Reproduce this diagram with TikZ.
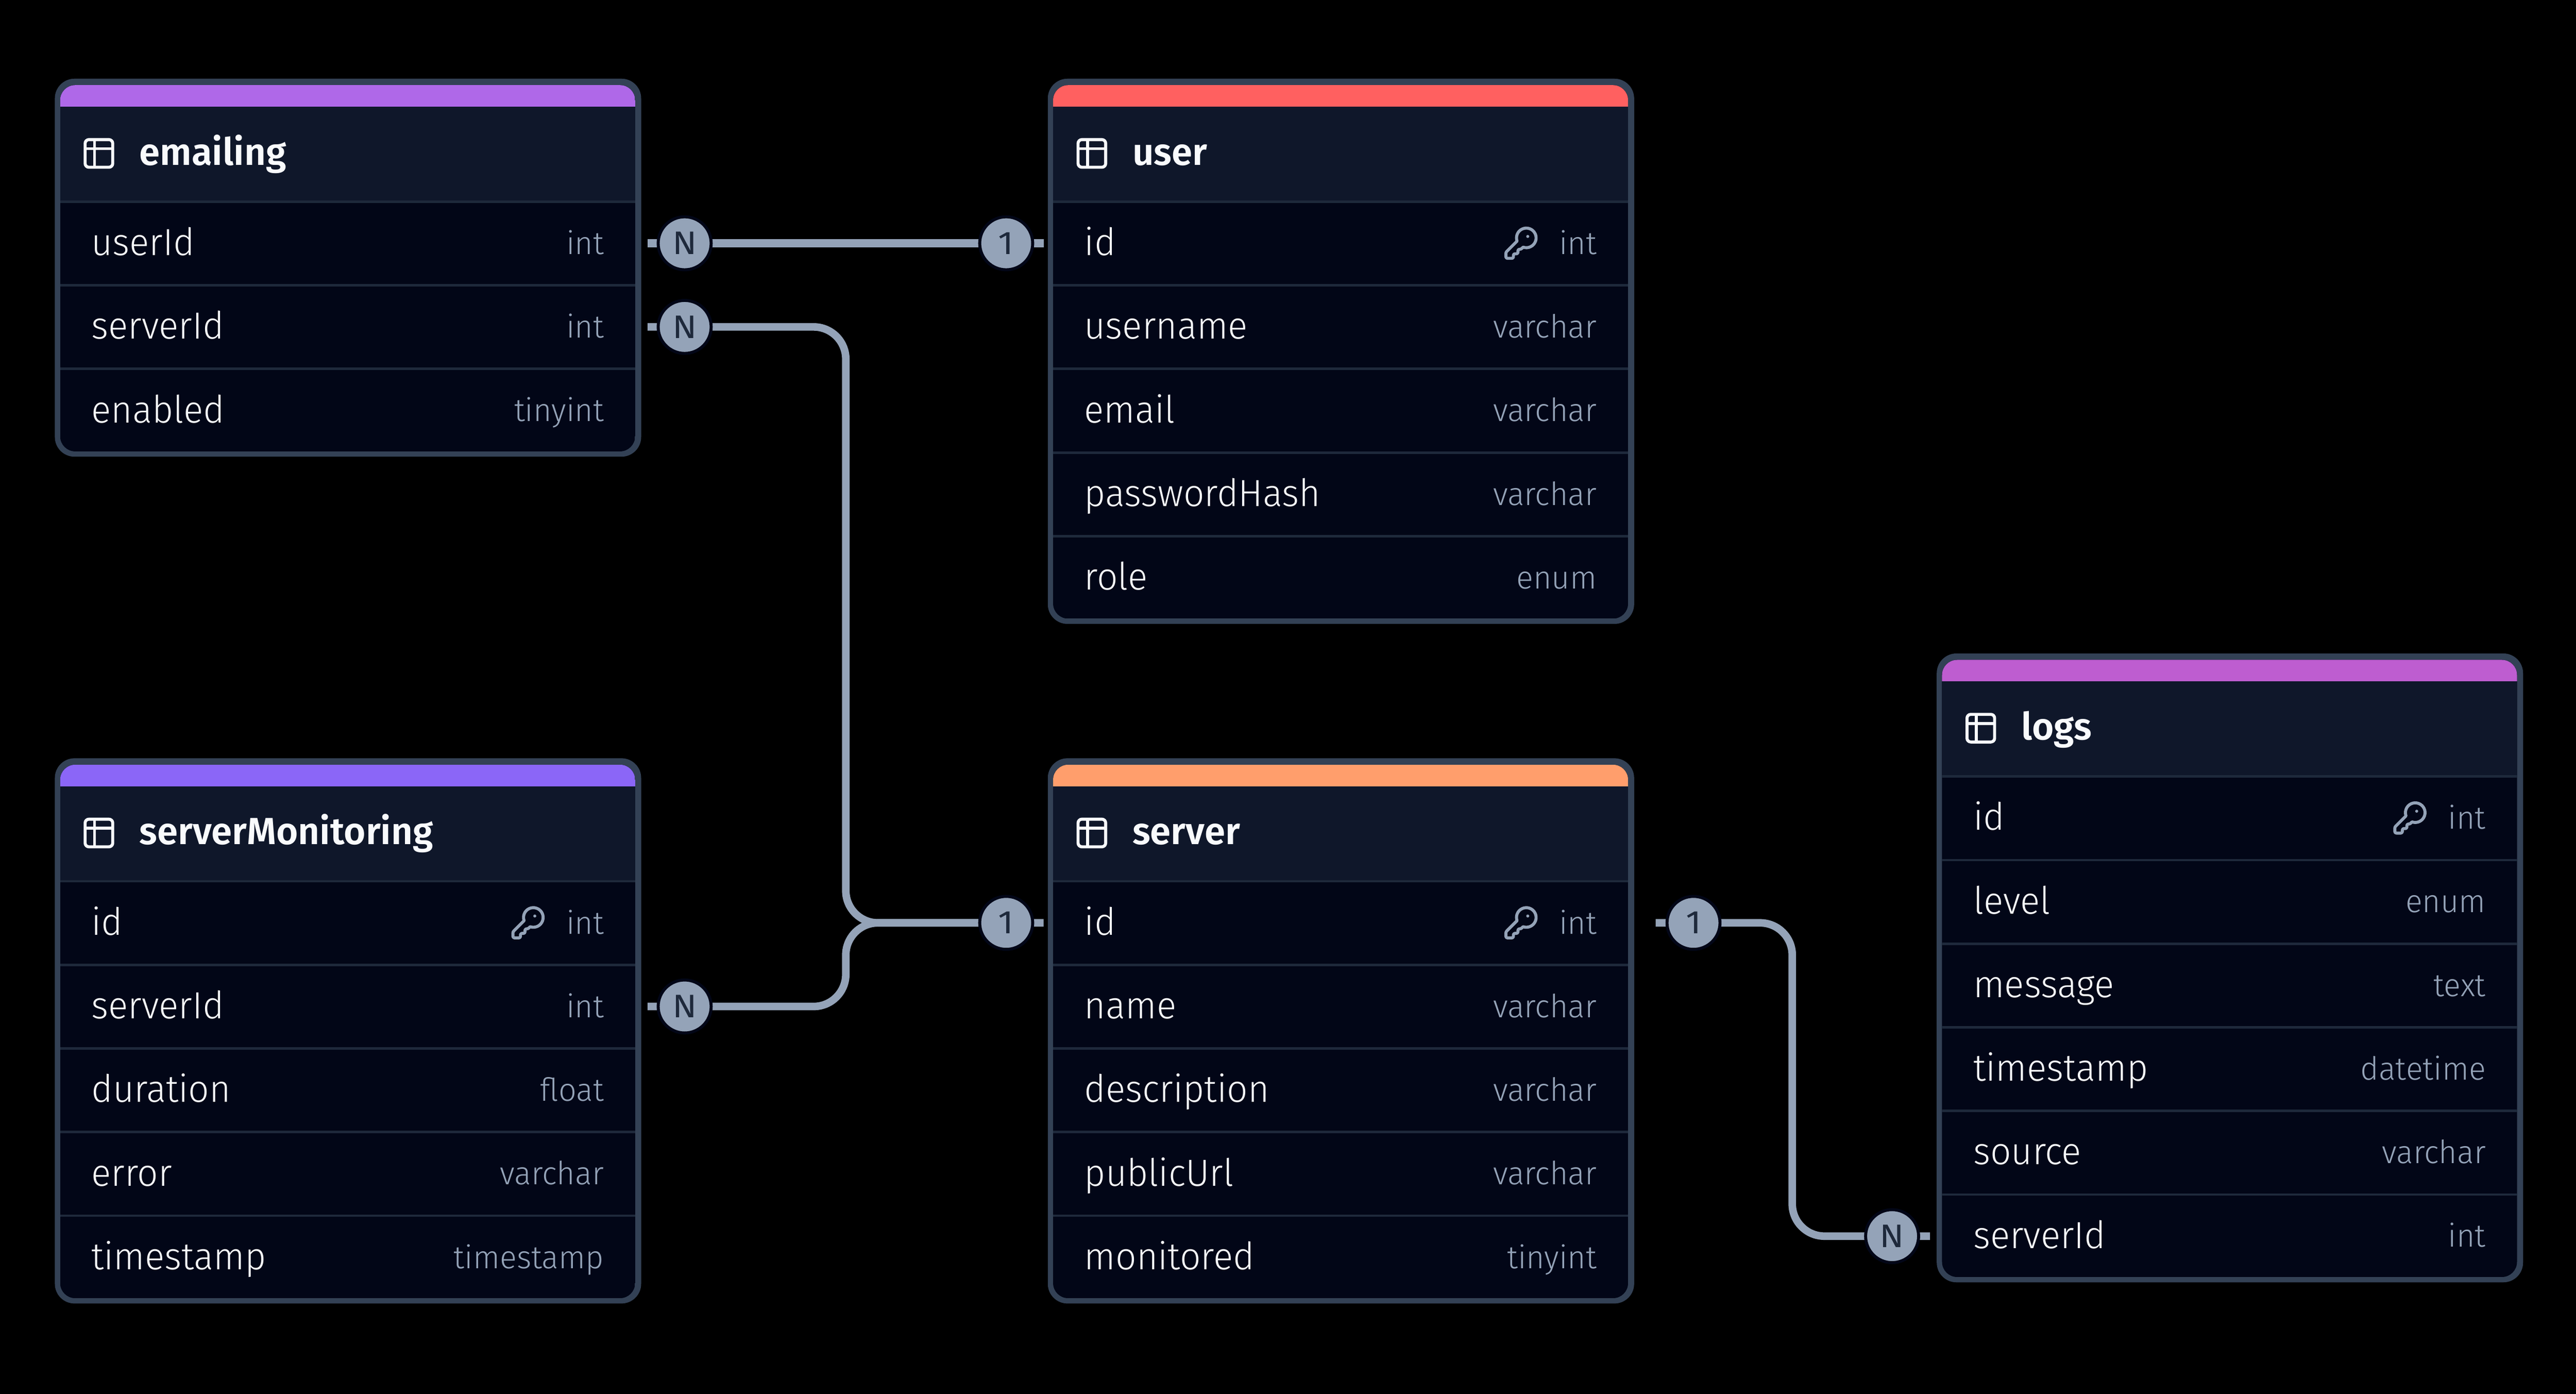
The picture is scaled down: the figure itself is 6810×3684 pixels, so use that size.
\documentclass[tikz,border=0pt]{standalone}
\usepackage{fontspec}
\usetikzlibrary{svg.path}
\setmainfont{Fira Sans}
\newfontfamily\rowfont[FakeStretch=0.97]{Fira Sans Light}
\newfontfamily\typefont[FakeStretch=0.985]{Fira Sans Light}
\newfontfamily\titlefont[FakeStretch=0.99]{Fira Sans SemiBold}
\newfontfamily\cardfont[FakeStretch=1.1]{Fira Sans}
\definecolor{bordercol}{HTML}{334155}
\definecolor{headcol}{HTML}{0F172A}
\definecolor{rowcol}{HTML}{020617}
\definecolor{sepcol}{HTML}{1E293B}
\definecolor{typecol}{HTML}{94A3B8}
\definecolor{namecol}{HTML}{F8FAFC}
\definecolor{edgecol}{HTML}{94A3B8}
\definecolor{cemail}{HTML}{AF68E8}
\definecolor{cuser}{HTML}{FF6060}
\definecolor{cmon}{HTML}{8B66F7}
\definecolor{cserver}{HTML}{FF9E6C}
\definecolor{clogs}{HTML}{BE5DD0}
\pgfdeclarelayer{bglayer}
\pgfdeclarelayer{edgelayer}
\pgfsetlayers{bglayer,edgelayer,main}
\tikzset{
  namelabel/.style={anchor=base west,inner sep=0pt,text=namecol,font=\rowfont\fontsize{28.4}{30}\selectfont},
  typelabel/.style={anchor=base east,inner sep=0pt,text=typecol,font=\typefont\fontsize{24}{26}\selectfont},
  titlelabel/.style={anchor=base west,inner sep=0pt,text=namecol,font=\titlefont\fontsize{28.4}{30}\selectfont},
  card/.style={circle,fill=edgecol,draw=rowcol,line width=0.08cm,inner sep=0pt,minimum size=1.4cm,text=sepcol,font=\cardfont\fontsize{24.5}{26}\selectfont},
  edgeline/.style={draw=edgecol,line width=0.20cm,rounded corners=0.85cm},
  iconline/.style={draw=namecol,line width=0.08cm},
  keyline/.style={draw=typecol,line width=0.08cm,line join=round,line cap=round},
}
\newcommand{\ertable}[7]{%
  \pgfmathsetmacro{\tr}{#2+1550}%
  \pgfmathsetmacro{\tb}{#3+999+221*(#4-3)}%
  \fill[bordercol,rounded corners=0.52cm] (#2,#3) rectangle (\tr,\tb);
  \begin{scope}
    \pgfmathsetmacro{\il}{#2+14}\pgfmathsetmacro{\ir}{#2+1534}%
    \pgfmathsetmacro{\it}{#3+17}\pgfmathsetmacro{\ib}{\tb-14}%
    \pgfmathsetmacro{\ba}{#3+74}\pgfmathsetmacro{\he}{#3+325}%
    \clip[rounded corners=0.40cm] (\il,\it) rectangle (\ir,\ib);
    \fill[rowcol] (\il,\it) rectangle (\ir,\ib);
    \fill[headcol] (\il,\it) rectangle (\ir,\he);
    \fill[#5] (\il,\it) rectangle (\ir,\ba);
    \foreach \s in {1,...,#4} {
      \pgfmathsetmacro{\sy}{#3+325+221*(\s-1)}%
      \draw[sepcol,line width=0.065cm] (\il,\sy) -- (\ir,\sy);
    }
  \end{scope}
  \begin{scope}[shift={(#2+76,#3+157)}]
    \draw[iconline,rounded corners=0.10cm] (4,4) rectangle (77,77);
    \draw[iconline] (4,28) -- (77,28);
    \draw[iconline] (29,4) -- (29,77);
  \end{scope}
  \node[titlelabel] (#1-title) at (#2+223,#3+228) {#6};
  \foreach \nm/\ty/\k [count=\i from 0] in {#7} {
    \pgfmathsetmacro{\cy}{#3+435+221*\i}%
    \node[namelabel] (#1-\nm) at (#2+96,\cy+32) {\nm};
    \node[typelabel] (#1-\nm-type) at (#2+1452,\cy+29) {\ty};
    \ifnum\k=1
      \begin{scope}[shift={(#2+1203,\cy-48)},xscale=1.134,yscale=-1.134]
        \draw[keyline] svg "M 2.586 17.414 A 2 2 0 0 0 2 18.828 V 21 a 1 1 0 0 0 1 1 h 3 a 1 1 0 0 0 1 -1 v -1 a 1 1 0 0 1 1 -1 h 1 a 1 1 0 0 0 1 -1 v -1 a 1 1 0 0 1 1 -1 h .172 a 2 2 0 0 0 1.414 -.586 l .814 -.814 a 6.5 6.5 0 1 0 -4 -4 z";
        \fill[typecol] svg "M 17.5 7.5 a 1 1 0 1 0 -2 0 a 1 1 0 1 0 2 0 z";
      \end{scope}
    \fi
  }
}
\begin{document}
\begin{tikzpicture}[x=0.01cm,y=-0.01cm]
\begin{pgfonlayer}{bglayer}
  \fill[black] (0,0) rectangle (6810,3684);
\end{pgfonlayer}
\useasboundingbox (0,0) rectangle (6810,3684);
\ertable{emailing}{145}{208}{3}{cemail}{emailing}{userId/int/0,serverId/int/0,enabled/tinyint/0}
\ertable{user}{2770}{208}{5}{cuser}{user}{id/int/1,username/varchar/0,email/varchar/0,passwordHash/varchar/0,role/enum/0}
\ertable{serverMonitoring}{145}{2004}{5}{cmon}{serverMonitoring}{id/int/1,serverId/int/0,duration/float/0,error/varchar/0,timestamp/timestamp/0}
\ertable{server}{2770}{2004}{5}{cserver}{server}{id/int/1,name/varchar/0,description/varchar/0,publicUrl/varchar/0,monitored/tinyint/0}
\ertable{logs}{5120}{1727}{6}{clogs}{logs}{id/int/1,level/enum/0,message/text/0,timestamp/datetime/0,source/varchar/0,serverId/int/0}

\node[card] (n1) at (1810,643) {N};
\node[card] (n2) at (1810,864) {N};
\node[card] (n3) at (1810,2660) {N};
\node[card] (n4) at (5002,3267) {N};
\node[card] (o1) at (2660,643) {1};
\node[card] (o2) at (2660,2439) {1};
\node[card] (o4) at (4477,2439) {1};

\coordinate (s1a) at (1712,643);
\coordinate (s1b) at (2759,643);
\coordinate (s2a) at (1712,864);
\coordinate (s2b) at (2759,2439);
\coordinate (s3a) at (1712,2660);
\coordinate (s4a) at (4377,2439);
\coordinate (s4b) at (5102,3267);
\coordinate (c2a) at (2236,864);
\coordinate (c2b) at (2236,2439);
\coordinate (c3a) at (2236,2660);
\coordinate (c4a) at (4738,2439);
\coordinate (c4b) at (4738,3267);

\begin{pgfonlayer}{edgelayer}
  \draw[edgeline,line width=0.22cm] (s1a) -- (n1.center) -- (o1.center) -- (s1b);
  \draw[edgeline] (s2a) -- (n2.center) -- (c2a) -- (c2b) -- (o2.center) -- (s2b);
  \draw[edgeline] (s3a) -- (n3.center) -- (c3a) -- (c2b) -- (o2.center);
  \draw[edgeline] (s4a) -- (o4.center) -- (c4a) -- (c4b) -- (n4.center) -- (s4b);
\end{pgfonlayer}
\end{tikzpicture}
\end{document}
